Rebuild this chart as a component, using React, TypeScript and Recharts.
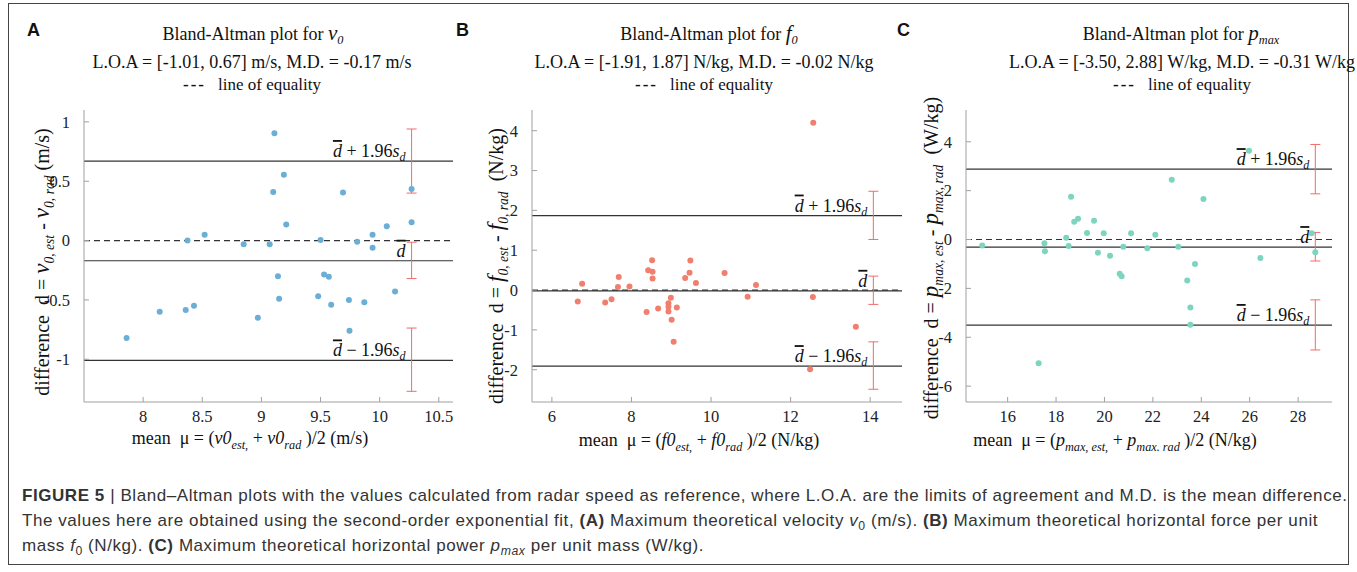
import React from 'react';
import { ScatterChart, Scatter, XAxis, YAxis, ReferenceLine, ErrorBar } from 'recharts';

const SERIF = '"Liberation Serif", "DejaVu Serif", "Noto Serif", Times, serif';
const SANS = '"Liberation Sans", Arial, Helvetica, sans-serif';

// ---- Panel A: v0 (m/s)
const aMean = [7.86, 8.14, 8.36, 8.43, 8.375, 8.52, 8.85, 8.97, 9.07, 9.11, 9.1, 9.19, 9.21, 9.14, 9.15, 9.5, 9.48, 9.53, 9.57, 9.59, 9.69, 9.74, 9.745, 9.81, 9.87, 9.94, 9.94, 10.06, 10.13, 10.27, 10.27];
const aDiff = [-0.82, -0.6, -0.585, -0.55, 0.0, 0.05, -0.03, -0.65, -0.03, 0.905, 0.41, 0.555, 0.135, -0.3, -0.49, 0.005, -0.47, -0.285, -0.305, -0.54, 0.405, -0.5, -0.76, -0.01, -0.52, 0.05, -0.06, 0.12, -0.43, 0.435, 0.155];
const aLimits = [-1.01, -0.17, 0.67]; // lower, mean, upper
const aBarX = 10.27;
const aBarLo = [-1.27, -0.32, 0.4];
const aBarHi = [-0.737, -0.014, 0.94];
const aXDomain = [7.5, 10.62];
const aYDomain = [-1.36, 1.1];
const aXTicks = [8, 8.5, 9, 9.5, 10, 10.5];
const aYTicks = [-1, -0.5, 0, 0.5, 1];

// ---- Panel B: f0 (N/kg)
const bMean = [6.65, 6.76, 7.34, 7.5, 7.68, 7.66, 7.95, 8.38, 8.42, 8.52, 8.53, 8.53, 8.67, 8.93, 8.93, 8.93, 8.99, 9.01, 9.06, 9.14, 9.35, 9.46, 9.48, 9.62, 10.34, 10.92, 11.13, 12.57, 12.56, 12.49, 13.64];
const bDiff = [-0.29, 0.16, -0.31, -0.23, 0.33, 0.075, 0.09, -0.55, 0.5, 0.75, 0.46, 0.29, -0.46, -0.33, -0.42, -0.54, -0.19, -0.745, -1.3, -0.435, 0.3, 0.435, 0.745, 0.18, 0.43, -0.17, 0.125, 4.2, -0.175, -1.99, -0.92];
const bLimits = [-1.91, -0.02, 1.87];
const bBarX = 14.08;
const bBarLo = [-2.49, -0.36, 1.27];
const bBarHi = [-1.3, 0.35, 2.48];
const bXDomain = [5.5, 14.8];
const bYDomain = [-2.81, 4.52];
const bXTicks = [6, 8, 10, 12, 14];
const bYTicks = [-2, -1, 0, 1, 2, 3, 4];

// ---- Panel C: pmax (W/kg)
const cMean = [14.95, 17.28, 17.52, 17.54, 18.42, 18.52, 18.62, 18.75, 18.91, 19.28, 19.57, 19.73, 19.97, 20.23, 20.63, 20.71, 20.78, 21.1, 21.77, 22.1, 22.78, 23.05, 23.42, 23.55, 23.55, 23.74, 24.09, 25.97, 26.44, 28.56, 28.71];
const cDiff = [-0.25, -5.06, -0.15, -0.48, 0.07, -0.27, 1.75, 0.73, 0.85, 0.27, 0.77, -0.54, 0.26, -0.66, -1.4, -1.5, -0.3, 0.26, -0.36, 0.19, 2.45, -0.3, -1.68, -2.78, -3.49, -1.0, 1.66, 3.63, -0.76, 0.26, -0.52];
const cLimits = [-3.5, -0.31, 2.88];
const cBarX = 28.71;
const cBarLo = [-4.52, -0.88, 1.87];
const cBarHi = [-2.47, 0.29, 3.89];
const cXDomain = [14.28, 29.4];
const cYDomain = [-6.65, 5.3];
const cXTicks = [16, 18, 20, 22, 24, 26, 28];
const cYTicks = [-6, -4, -2, 0, 2, 4];

const CHART_W = 460;
const CHART_H = 440;
const PLOT_LEFT = 84;

const LimitLabel = (props: any) => {
  const { viewBox, pad, kind } = props;
  if (!viewBox) return null;
  const x = viewBox.x + viewBox.width - pad;
  const y = viewBox.y - 4;
  return (
    <text x={x} y={y} textAnchor="end" fontFamily="Liberation Serif" fontSize={18} fill="#111">
      <tspan fontStyle="italic" textDecoration="overline">d</tspan>
      {kind !== 'mean' && <tspan>{kind === 'upper' ? ' + 1.96' : ' \u2212 1.96'}</tspan>}
      {kind !== 'mean' && <tspan fontStyle="italic">s</tspan>}
      {kind !== 'mean' && <tspan fontStyle="italic" fontSize={12} dy={4}>d</tspan>}
    </text>
  );
};

const Dot = (color: string) => (p: any) => <circle cx={p.cx} cy={p.cy} r={3} fill={color} />;

interface PanelProps {
  left: number;
  right: number;
  mean: number[];
  diff: number[];
  limits: number[];
  barX: number;
  barLo: number[];
  barHi: number[];
  xDomain: number[];
  yDomain: number[];
  xTicks: number[];
  yTicks: number[];
  color: string;
}

const Panel = (p: PanelProps) => {
  const points = p.mean.map((m, i) => ({ x: m, y: p.diff[i] }));
  const bars = p.barLo.map((lo, i) => {
    const mid = (lo + p.barHi[i]) / 2;
    return { x: p.barX, y: mid, err: [mid - lo, p.barHi[i] - mid] };
  });
  const plotW = CHART_W - PLOT_LEFT - p.right;
  const pad = (plotW * (p.xDomain[1] - p.barX)) / (p.xDomain[1] - p.xDomain[0]) + 6;
  const tickStyle = { fontFamily: 'Liberation Serif', fontSize: 16.5, fill: '#222' };
  return (
    <div style={{ position: 'absolute', left: p.left, top: 0, fontFamily: SERIF }}>
      <ScatterChart width={CHART_W} height={CHART_H} margin={{ top: 110, right: p.right, bottom: 8, left: PLOT_LEFT - 40 }}>
        <XAxis
          type="number"
          dataKey="x"
          domain={p.xDomain}
          ticks={p.xTicks}
          allowDataOverflow
          height={30}
          stroke="#a0a0a0"
          tickSize={-5}
          tickMargin={13}
          tick={tickStyle}
        />
        <YAxis
          type="number"
          dataKey="y"
          domain={p.yDomain}
          ticks={p.yTicks}
          allowDataOverflow
          width={40}
          stroke="#a0a0a0"
          tickSize={-5}
          tickMargin={19}
          tick={tickStyle}
        />
        <ReferenceLine y={0} stroke="#333" strokeDasharray="6 4" strokeWidth={1.2} />
        <ReferenceLine y={p.limits[2]} stroke="#333" strokeWidth={1.2} label={<LimitLabel pad={pad} kind="upper" />} />
        <ReferenceLine y={p.limits[1]} stroke="#333" strokeWidth={1.2} label={<LimitLabel pad={pad} kind="mean" />} />
        <ReferenceLine y={p.limits[0]} stroke="#333" strokeWidth={1.2} label={<LimitLabel pad={pad} kind="lower" />} />
        <Scatter data={points} shape={Dot(p.color)} isAnimationActive={false} />
        <Scatter data={bars} shape={() => <g />} isAnimationActive={false}>
          <ErrorBar dataKey="err" direction="y" width={5} stroke="#f26b6b" strokeWidth={1} />
        </Scatter>
      </ScatterChart>
    </div>
  );
};

const sub = { fontSize: '0.68em', fontStyle: 'italic' as const, lineHeight: 0 };

const Centered = ({ x, y, size = 18, children }: any) => (
  <div
    style={{
      position: 'absolute',
      left: x,
      top: y,
      transform: 'translate(-50%, -50%)',
      whiteSpace: 'nowrap',
      fontFamily: SERIF,
      fontSize: size,
      color: '#111',
      lineHeight: '20px',
    }}
  >
    {children}
  </div>
);

const Rotated = ({ x, y, children }: any) => (
  <div
    style={{
      position: 'absolute',
      left: x,
      top: y,
      transform: 'translate(-50%, -50%) rotate(-90deg)',
      whiteSpace: 'nowrap',
      fontFamily: SERIF,
      fontSize: 20,
      color: '#111',
      lineHeight: '22px',
    }}
  >
    {children}
  </div>
);

const Letter = ({ x, children }: any) => (
  <div style={{ position: 'absolute', left: x, top: 20, fontFamily: SANS, fontWeight: 'bold', fontSize: 18, color: '#111' }}>
    {children}
  </div>
);

const Equality = () => (
  <span>
    <span style={{ letterSpacing: 2, fontWeight: 'bold' }}>---</span>
    <span style={{ marginLeft: 12 }}>line of equality</span>
  </span>
);

const capSub = { fontSize: '0.72em', lineHeight: 0 };
const big = { fontSize: 23 };

const App = () => {
  return (
    <div style={{ position: 'relative', width: 1357, height: 572, background: '#fff', overflow: 'hidden' }}>
      <style>{'body{margin:0}'}</style>
      <div style={{ position: 'absolute', left: 8, top: 3, width: 1341, height: 562, border: '1px solid #444', boxSizing: 'border-box' }} />

      <Letter x={27}>A</Letter>
      <Letter x={456}>B</Letter>
      <Letter x={897}>C</Letter>

      <Centered x={253} y={33}>
        Bland-Altman plot for <i style={{ fontSize: 21 }}>v</i><sub style={sub}>0</sub>
      </Centered>
      <Centered x={252} y={62}>L.O.A = [-1.01, 0.67] m/s, M.D. = -0.17 m/s</Centered>
      <Centered x={252} y={85} size={17}><Equality /></Centered>

      <Centered x={709} y={33}>
        Bland-Altman plot for <i style={{ fontSize: 21 }}>f</i><sub style={sub}>0</sub>
      </Centered>
      <Centered x={704} y={62}>L.O.A = [-1.91, 1.87] N/kg, M.D. = -0.02 N/kg</Centered>
      <Centered x={704} y={85} size={17}><Equality /></Centered>

      <Centered x={1181} y={33}>
        Bland-Altman plot for <i style={{ fontSize: 21 }}>p</i><sub style={sub}>max</sub>
      </Centered>
      <Centered x={1182} y={62}>L.O.A = [-3.50, 2.88] W/kg, M.D. = -0.31 W/kg</Centered>
      <Centered x={1182} y={85} size={17}><Equality /></Centered>

      <Panel left={0} right={7} mean={aMean} diff={aDiff} limits={aLimits} barX={aBarX} barLo={aBarLo} barHi={aBarHi}
        xDomain={aXDomain} yDomain={aYDomain} xTicks={aXTicks} yTicks={aYTicks} color="#6baed6" />
      <Panel left={448} right={6} mean={bMean} diff={bDiff} limits={bLimits} barX={bBarX} barLo={bBarLo} barHi={bBarHi}
        xDomain={bXDomain} yDomain={bYDomain} xTicks={bXTicks} yTicks={bYTicks} color="#f07f6f" />
      <Panel left={882} right={10} mean={cMean} diff={cDiff} limits={cLimits} barX={cBarX} barLo={cBarLo} barHi={cBarHi}
        xDomain={cXDomain} yDomain={cYDomain} xTicks={cXTicks} yTicks={cYTicks} color="#7dd5c0" />

      <Rotated x={42} y={262}>
        difference&nbsp; d = <i style={big}>v</i><sub style={sub}>0, est</sub> - <i style={big}>v</i><sub style={sub}>0, rad</sub> (m/s)
      </Rotated>
      <Rotated x={496} y={266}>
        difference&nbsp; d = <i style={big}>f</i><sub style={sub}>0, est</sub> - <i style={big}>f</i><sub style={sub}>0, rad</sub>&nbsp; (N/kg)
      </Rotated>
      <Rotated x={931} y={258}>
        difference&nbsp; d = <i style={big}>p</i><sub style={sub}>max, est</sub> - <i style={big}>p</i><sub style={sub}>max, rad</sub>&nbsp; (W/kg)
      </Rotated>

      <Centered x={250} y={438}>
        mean&nbsp; μ = (<i>v0</i><sub style={sub}>est,</sub> + <i>v0</i><sub style={sub}>rad</sub> )/2 (m/s)
      </Centered>
      <Centered x={699} y={440}>
        mean&nbsp; μ = (<i>f0</i><sub style={sub}>est,</sub> + <i>f0</i><sub style={sub}>rad</sub> )/2 (N/kg)
      </Centered>
      <Centered x={1115} y={440}>
        mean&nbsp; μ = (<i>p</i><sub style={sub}>max, est,</sub> + <i>p</i><sub style={sub}>max. rad</sub> )/2 (N/kg)
      </Centered>

      <div style={{ position: 'absolute', left: 22, top: 486, fontFamily: SANS, fontSize: 17, letterSpacing: 0.56, color: '#333', lineHeight: '20px' }}>
        <div style={{ whiteSpace: 'nowrap', marginBottom: 5 }}>
          <b>FIGURE 5</b> | Bland–Altman plots with the values calculated from radar speed as reference, where L.O.A. are the limits of agreement and M.D. is the mean difference.
        </div>
        <div style={{ whiteSpace: 'nowrap', marginBottom: 5 }}>
          The values here are obtained using the second-order exponential fit, <b>(A)</b> Maximum theoretical velocity <i>v</i><sub style={capSub}>0</sub> (m/s). <b>(B)</b> Maximum theoretical horizontal force per unit
        </div>
        <div style={{ whiteSpace: 'nowrap' }}>
          mass <i>f</i><sub style={capSub}>0</sub> (N/kg). <b>(C)</b> Maximum theoretical horizontal power <i>p<sub style={capSub}>max</sub></i> per unit mass (W/kg).
        </div>
      </div>
    </div>
  );
};

export default App;
